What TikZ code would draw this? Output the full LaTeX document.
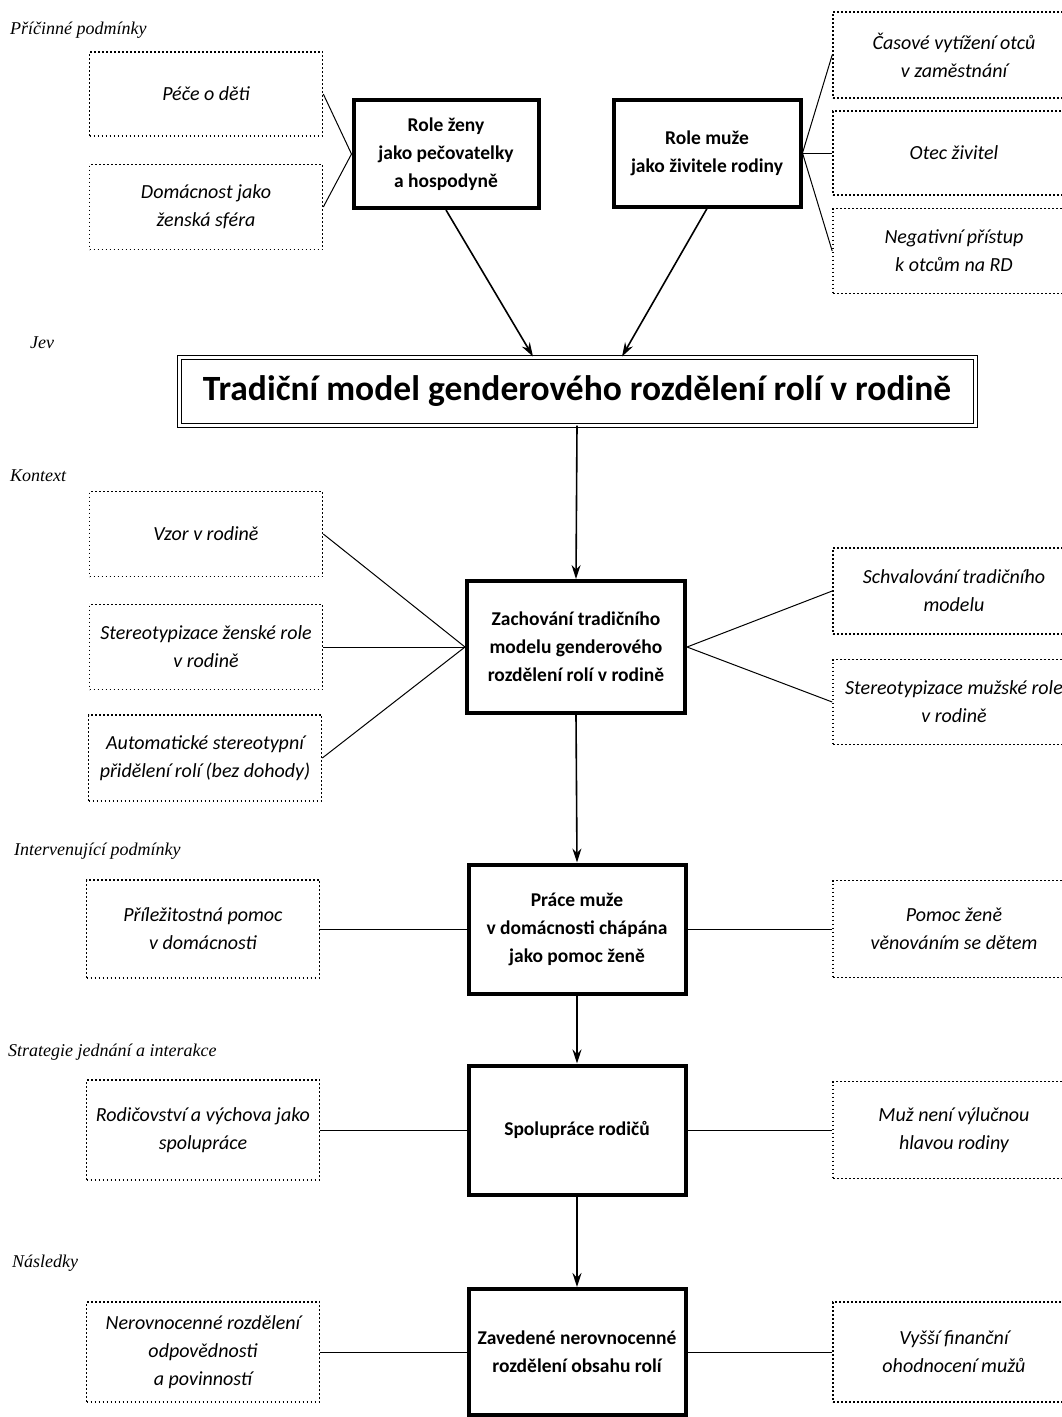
\documentclass[tikz,border=0pt]{standalone}
\usepackage{fontspec}
\setmainfont{Carlito}
\newfontfamily\labelfont{Liberation Serif}
\usetikzlibrary{arrows.meta}

\begin{document}
\begin{tikzpicture}[x=1pt,y=-1pt,
        sidebox/.style={draw, line width=1.6pt, dash pattern=on 1.6pt off 2.4pt, align=center, inner sep=2pt, font=\fontsize{20}{28}\selectfont\itshape},
        mainbox/.style={draw, line width=4pt, align=center, font=\fontsize{19.5}{28}\selectfont\bfseries},
        sectlabel/.style={anchor=west, inner sep=0pt, font=\labelfont\fontsize{18}{20}\selectfont\itshape},
        link/.style={line width=1pt},
        arr/.style={line width=1.6pt, -{Stealth[length=14pt,width=9pt]}}]
        \useasboundingbox (0,0) rectangle (1062,1417);

        \node[sectlabel] (lpric) at (10,30) {Příčinné podmínky};
        \node[sectlabel] (ljev) at (30,343) {Jev};
        \node[sectlabel] (lkont) at (10,476) {Kontext};
        \node[sectlabel] (linterv) at (14,851) {Intervenující podmínky};
        \node[sectlabel] (lstrat) at (8,1052) {Strategie jednání a interakce};
        \node[sectlabel] (lnasl) at (12,1263) {Následky};

        \node[sidebox, minimum width=233pt, minimum height=84pt] (pece) at (206,94) {Péče o děti};
        \node[sidebox, minimum width=233pt, minimum height=85pt] (domac) at (206,207) {Domácnost jako\\ženská sféra};
        \node[mainbox, minimum width=185pt, minimum height=108pt] (zena) at (446,154) {Role ženy\\jako pečovatelky\\a hospodyně};
        \node[mainbox, minimum width=187pt, minimum height=107pt] (muz) at (707,153) {Role muže\\jako živitele rodiny};
        \node[sidebox, minimum width=242pt, minimum height=86pt] (casove) at (954,55) {Časové vytížení otců\\v zaměstnání};
        \node[sidebox, minimum width=242pt, minimum height=84pt] (otec) at (954,153) {Otec živitel};
        \node[sidebox, minimum width=242pt, minimum height=85pt] (negat) at (954,251) {Negativní přístup\\k otcům na RD};

        \node[draw, line width=1pt, double, double distance=3pt, minimum width=796pt, minimum height=68pt, font=\fontsize{35.5}{40}\selectfont\bfseries] (jev) at (577,391) {Tradiční model genderového rozdělení rolí v rodině};

        \node[sidebox, minimum width=233pt, minimum height=85pt] (vzor) at (206,534) {Vzor v rodině};
        \node[sidebox, minimum width=233pt, minimum height=85pt] (stereoz) at (206,647) {Stereotypizace ženské role\\v rodině};
        \node[sidebox, minimum width=233pt, minimum height=86pt] (autom) at (205,758) {Automatické stereotypní\\přidělení rolí (bez dohody)};
        \node[mainbox, minimum width=218pt, minimum height=132pt] (zach) at (576,647) {Zachování tradičního\\modelu genderového\\rozdělení rolí v rodině};
        \node[sidebox, minimum width=242pt, minimum height=86pt] (schval) at (954,591) {Schvalování tradičního\\modelu};
        \node[sidebox, minimum width=242pt, minimum height=85pt] (stereom) at (954,702) {Stereotypizace mužské role\\v rodině};

        \node[sidebox, minimum width=233pt, minimum height=98pt] (prilez) at (203,929) {Příležitostná pomoc\\v domácnosti};
        \node[mainbox, minimum width=217pt, minimum height=129pt] (prace) at (577,929) {Práce muže\\v domácnosti chápána\\jako pomoc ženě};
        \node[sidebox, minimum width=242pt, minimum height=97pt] (pomoc) at (954,929) {Pomoc ženě\\věnováním se dětem};

        \node[sidebox, minimum width=233pt, minimum height=100pt] (rodic) at (203,1130) {Rodičovství a výchova jako\\spolupráce};
        \node[mainbox, minimum width=217pt, minimum height=129pt] (spolu) at (577,1130) {Spolupráce rodičů};
        \node[sidebox, minimum width=242pt, minimum height=97pt] (hlava) at (954,1130) {Muž není výlučnou\\hlavou rodiny};

        \node[sidebox, minimum width=233pt, minimum height=100pt] (nerov) at (203,1352) {Nerovnocenné rozdělení\\odpovědnosti\\a povinností};
        \node[mainbox, minimum width=217pt, minimum height=126pt] (zaved) at (577,1352) {Zavedené nerovnocenné\\rozdělení obsahu rolí};
        \node[sidebox, minimum width=242pt, minimum height=100pt] (vyssi) at (954,1352) {Vyšší finanční\\ohodnocení mužů};

        \draw[link] (pece.east) -- (zena.west) -- (domac.east);
        \draw[link] (casove.west) -- (muz.east) -- (negat.west);
        \draw[link] (muz.east) -- (otec.west);
        \draw[arr] (zena.south) -- ([xshift=-44pt]jev.north);
        \draw[arr] (muz.south) -- ([xshift=45pt]jev.north);
        \draw[arr] (jev.south) -- (zach.north);
        \draw[link] (vzor.east) -- (zach.west) -- (autom.east);
        \draw[link] (stereoz.east) -- (zach.west);
        \draw[link] (schval.west) -- (zach.east) -- (stereom.west);
        \draw[arr] (zach.south) -- (prace.north);
        \draw[link] (prilez.east) -- (prace.west);
        \draw[link] (prace.east) -- (pomoc.west);
        \draw[arr] (prace.south) -- (spolu.north);
        \draw[link] (rodic.east) -- (spolu.west);
        \draw[link] (spolu.east) -- (hlava.west);
        \draw[arr] (spolu.south) -- (zaved.north);
        \draw[link] (nerov.east) -- (zaved.west);
        \draw[link] (zaved.east) -- (vyssi.west);
\end{tikzpicture}
\end{document}
